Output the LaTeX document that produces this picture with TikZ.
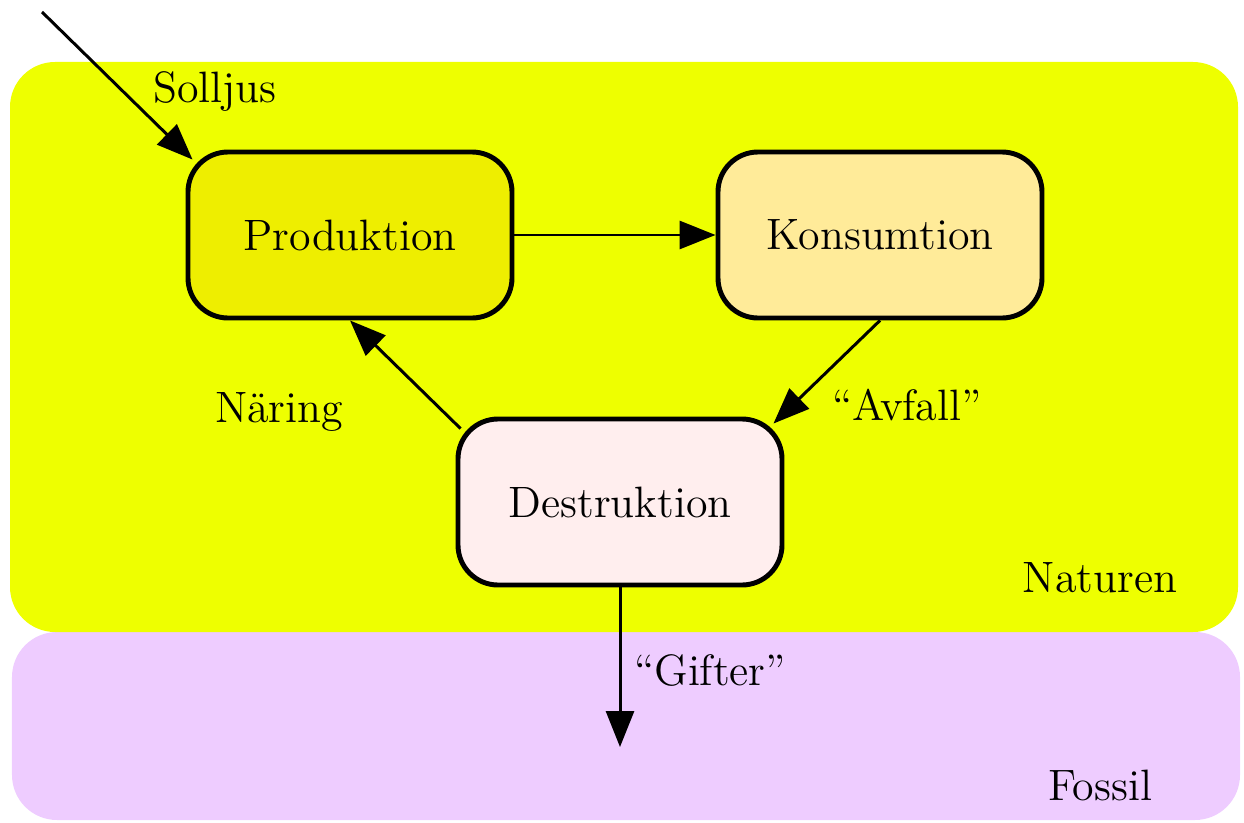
\documentclass[tikz,border=0pt]{standalone}
\usepackage{tikz}
\usetikzlibrary{arrows.meta, positioning}

\definecolor{naturbg}{HTML}{EEFF00}
\definecolor{fossilbg}{HTML}{EECCFF}
\definecolor{prodfill}{HTML}{EEEE00}
\definecolor{konsfill}{HTML}{FFEB99}
\definecolor{destrfill}{HTML}{FFEEEE}

\tikzset{
  stage/.style={draw=black, line width=1.4pt, rounded corners=0.4cm,
    minimum width=3.24cm, minimum height=1.66cm, inner sep=0pt},
  flow/.style={line width=0.85pt, -{Triangle[length=0.36cm,width=0.28cm]}},
  lbl/.style={inner sep=0pt}
}

\begin{document}
\begin{tikzpicture}[font=\fontsize{12.5pt}{15pt}\selectfont]
\useasboundingbox (0,0) rectangle (12.44,8.22);
% areas
\fill [fossilbg, rounded corners=0.45cm] (0.12,0.02) rectangle (12.40,1.90);
\fill [naturbg, rounded corners=0.45cm] (0.10,1.90) rectangle (12.38,7.60);
\node[lbl] (naturen) at (11.00,2.44) {Naturen};
\node[lbl] (fossil) at (11.00,0.37) {Fossil};

% stages
\node[stage, fill=prodfill] (prod) at (3.50,5.87) {Produktion};
\node[stage, fill=konsfill] (kons) at (8.80,5.87) {Konsumtion};
\node[stage, fill=destrfill] (destr) at (6.20,3.20) {Destruktion};

\coordinate (sun) at (0.42,8.10);
\coordinate (sink) at (6.20,0.75);

% flows
\draw [flow] (sun) -- ([shift={(0.07,-0.10)}]prod.north west);
\draw [flow] (prod.east) -- (kons.west);
\draw [flow] (kons.south) -- ([shift={(-0.11,-0.07)}]destr.north east);
\draw [flow] ([shift={(0.05,-0.12)}]destr.north west) -- (prod.south);
\draw [flow] (destr.south) -- (sink);

\node[lbl] (solljus) at (2.15,7.30) {Solljus};
\node[lbl] (naring) at (2.79,4.10) {Näring};
\node[lbl] (avfall) at (9.07,4.17) {``Avfall''};
\node[lbl] (gifter) at (7.10,1.52) {``Gifter''};
\end{tikzpicture}
\end{document}
